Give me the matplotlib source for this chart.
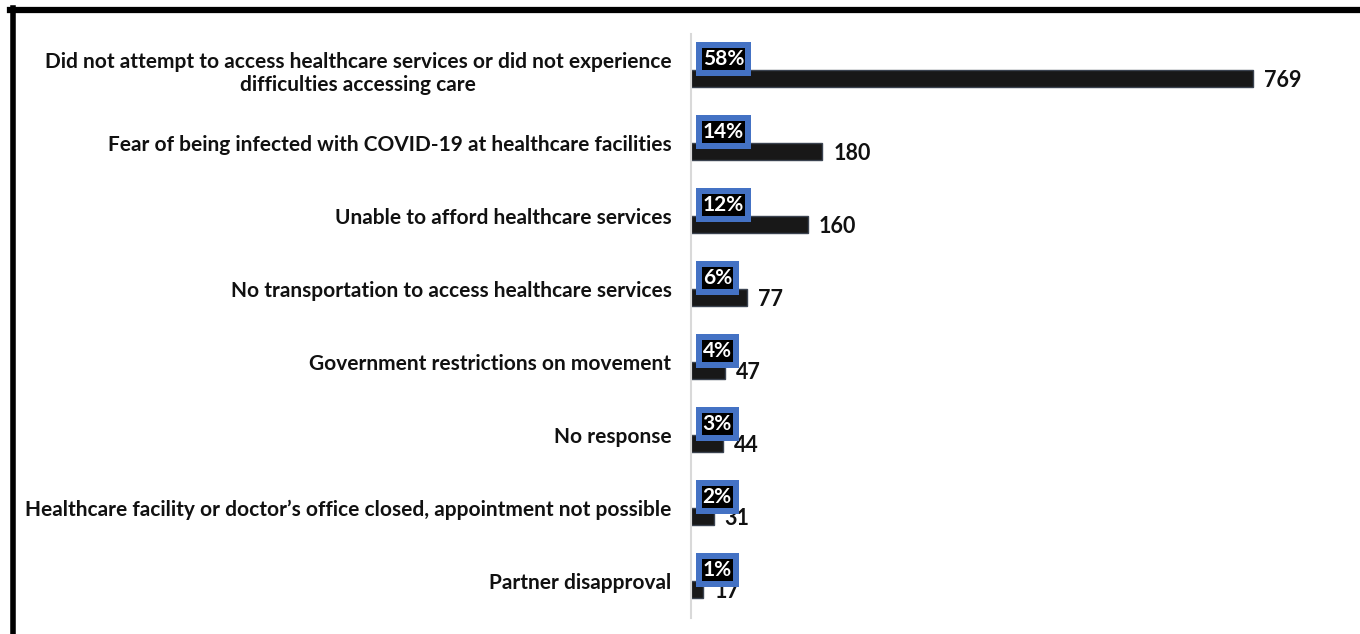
import matplotlib
matplotlib.use('Agg')
import matplotlib.pyplot as plt
from matplotlib.lines import Line2D

categories = [
    "Did not attempt to access healthcare services or did not experience\ndifficulties accessing care",
    "Fear of being infected with COVID-19 at healthcare facilities",
    "Unable to afford healthcare services",
    "No transportation to access healthcare services",
    "Government restrictions on movement",
    "No response",
    "Healthcare facility or doctor\u2019s office closed, appointment not possible",
    "Partner disapproval",
]
counts = [769, 180, 160, 77, 47, 44, 31, 17]
percents = ["58%", "14%", "12%", "6%", "4%", "3%", "2%", "1%"]

plt.rcParams['font.family'] = ['Lato', 'DejaVu Sans']

fig = plt.figure(figsize=(13.6, 6.34), dpi=100)
ax = fig.add_axes([0.508, 0.026, 0.477, 0.921])

ys = list(range(len(categories)))
bar_off = 0.117
lab_off = 0.155
ax.barh([y + bar_off for y in ys], counts, height=0.226, color="#181818",
        edgecolor="#3b4350", linewidth=1)

for y, c, p in zip(ys, counts, percents):
    ax.annotate(str(c), xy=(c, y + bar_off), xytext=(8, -1.5), textcoords="offset points",
                ha="left", va="center", fontsize=15.5, fontweight="bold", color="#111111")
    # blue frame behind, black tight box on top
    ax.annotate(p, xy=(0, y - lab_off), xytext=(8.5, 0), textcoords="offset points",
                ha="left", va="center", fontsize=15, fontweight="bold", color="#4472C4",
                bbox=dict(boxstyle="square,pad=0.34", fc="#4472C4", ec="none"))
    ax.annotate(p, xy=(0, y - lab_off), xytext=(8.5, 0), textcoords="offset points",
                ha="left", va="center", fontsize=15, fontweight="bold", color="white",
                bbox=dict(boxstyle="square,pad=0.05", fc="black", ec="none"))

ax.set_yticks(ys)
ax.set_yticklabels(categories, fontsize=15, fontweight="bold", color="#111111",
                   ha="right", multialignment="center")
ax.tick_params(axis="y", length=0, pad=14)
ax.set_ylim(len(categories) - 0.5, -0.5)
ax.set_xlim(0, 888)
ax.set_xticks([])
for s in ["top", "right", "bottom"]:
    ax.spines[s].set_visible(False)
ax.spines["left"].set_color("#d9d9d9")
ax.spines["left"].set_linewidth(1.5)

# frame lines at top and left
fig.add_artist(Line2D([10 / 1360, 1], [1 - 10 / 634, 1 - 10 / 634], color="black", lw=4.5))
fig.add_artist(Line2D([12.5 / 1360, 12.5 / 1360], [0, 1 - 8 / 634], color="black", lw=4))

fig.savefig("out.png", dpi=100)
